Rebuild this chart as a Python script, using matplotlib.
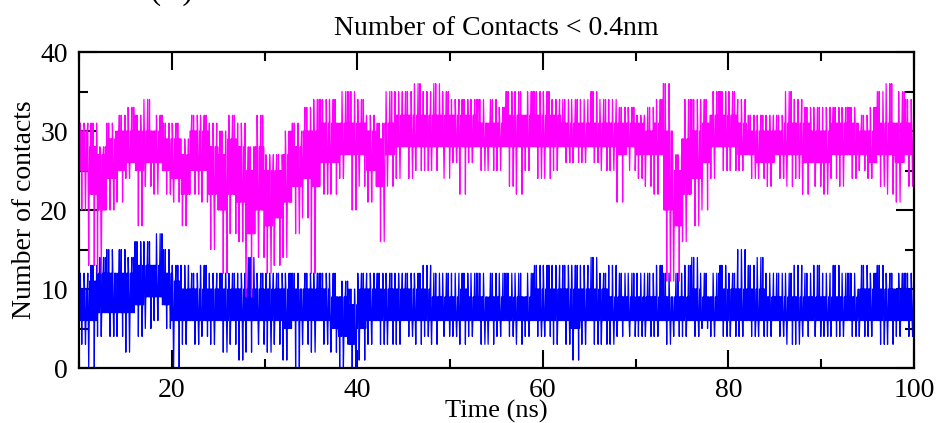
import numpy as np
import matplotlib
matplotlib.use("Agg")
import matplotlib.pyplot as plt
from matplotlib.ticker import MultipleLocator

# 1 ns bins starting at 10 ns; values read off the picture as
# spike high / core high / core low / spike low for each bin
bin_start = np.arange(10, 100)

mag_hi = [31,31,28,31,32,33,32,34,32,31, 31,29,32,32,31,30,32,31,28,32,
          27,27,30,31,33,34,34,34,35,35, 34,32,31,35,35,35,36,35,36,35,
          34,34,34,34,34,33,35,35,35,35, 35,34,34,34,34,35,34,34,33,33,
          32,33,34,36,27,34,34,34,35,35, 35,34,32,32,32,32,35,34,33,33,
          33,33,33,33,32,33,35,36,35,34]
mag_ch = [30,28,27,29,30,30,30,30,30,29, 29,27,30,30,28,27,29,28,25,28,
          25,25,27,28,30,30,31,31,31,31, 31,30,29,31,32,32,32,32,32,32,
          32,32,32,31,31,31,32,32,32,32, 32,32,31,31,31,31,31,31,31,31,
          31,30,31,30,25,29,30,31,32,32, 32,31,30,30,30,30,31,31,31,30,
          30,31,31,31,30,30,31,31,31,31]
mag_cl = [25,22,20,24,25,26,25,26,26,25, 24,22,25,25,22,20,22,21,17,20,
          18,19,21,23,24,23,26,26,27,27, 27,25,23,27,28,28,28,28,28,28,
          28,28,28,28,28,28,28,28,28,28, 28,28,28,28,28,28,28,28,27,28,
          27,27,27,20,18,22,24,26,28,28, 28,27,27,26,26,27,27,27,26,26,
          26,27,27,27,27,26,27,27,26,27]
mag_lo = [20,13,12,20,21,24,18,23,22,22, 21,18,22,21,15,12,17,16,9,14,
          12,13,14,17,19,12,22,22,24,20, 23,21,16,23,24,24,25,25,25,24,
          26,22,26,25,25,25,23,22,25,24, 24,25,26,26,26,26,25,25,21,25,
          24,23,22,11,11,16,18,20,24,25, 25,25,24,24,23,24,23,24,22,23,
          22,24,23,24,25,24,23,22,21,23]

blu_hi = [12,13,14,15,15,14,16,16,17,15, 13,13,12,13,12,12,12,12,14,12,
          12,12,12,12,12,12,12,12,11,10, 12,12,12,12,12,12,12,13,12,12,
          12,12,12,12,12,12,12,12,12,13, 13,13,13,13,13,14,12,13,12,12,
          12,12,13,12,12,13,14,12,12,13, 12,15,13,14,12,12,12,13,12,13,
          12,13,12,12,13,12,13,12,12,12]
blu_ch = [10,11,12,12,12,12,13,13,13,12, 11,10,10,10,10,10,10,10,10,10,
          10,10,10,10,10,10,10,9,9,8, 10,10,10,10,10,10,10,10,9,9,
          9,10,9,9,9,9,9,9,9,10, 10,10,10,10,10,10,10,9,9,9,
          9,9,9,9,9,9,10,9,9,10, 10,10,10,10,9,9,9,9,9,9,
          9,9,9,9,10,10,10,10,10,10]
blu_cl = [6,6,7,7,7,7,8,9,9,8, 6,6,6,6,6,6,6,6,6,6,
          6,6,5,6,6,6,6,5,4,3, 5,6,6,6,6,6,6,6,6,6,
          6,6,6,6,6,6,6,6,6,6, 6,6,6,5,6,6,6,6,6,6,
          6,6,6,6,6,6,6,6,6,6, 6,6,6,6,6,6,6,6,6,6,
          6,6,6,6,6,6,6,6,6,6]
blu_lo = [3,0,4,4,4,2,4,5,6,5, 0,3,3,4,3,2,3,1,2,3,
          2,3,1,0,3,2,3,2,0,0, 1,3,3,3,3,4,3,4,3,4,
          4,3,4,3,3,4,4,3,4,4, 4,3,3,1,3,3,3,3,4,4,
          4,4,4,3,4,4,4,5,4,4, 4,4,4,4,4,4,3,3,4,4,
          4,4,4,4,4,4,3,3,4,4]

# order in which each bin visits its four levels (0=hi 1=ch 2=cl 3=lo)
walk = [2, 1, 2, 0, 2, 1, 3, 1, 2, 1, 2, 0, 1, 2, 3, 2, 1, 2, 1, 0]


def trace(hi, ch, cl, lo):
    levels = np.stack([hi, ch, cl, lo], axis=1)
    n = len(walk)
    rows = []
    for i in range(len(bin_start)):
        order = np.roll(walk, (i * 7) % n)
        rows.append(levels[i, order])
    t = bin_start[:, None] + np.arange(n)[None, :] / n
    return t.ravel(), np.array(rows).ravel()


plt.rcParams['font.family'] = ['Liberation Serif', 'DejaVu Serif']
plt.rcParams['font.size'] = 20

fig = plt.figure(figsize=(9.38, 4.23), dpi=100)
ax = fig.add_axes([0.0842, 0.130, 0.8902, 0.747])

tb, yb = trace(blu_hi, blu_ch, blu_cl, blu_lo)
tm, ym = trace(mag_hi, mag_ch, mag_cl, mag_lo)
ax.plot(tb, yb, color='#0000ff', lw=0.9)
ax.plot(tm, ym, color='#ff00ff', lw=0.9)

ax.set_xlim(10, 100)
ax.set_ylim(0, 40)
ax.xaxis.set_major_locator(MultipleLocator(20))
ax.xaxis.set_minor_locator(MultipleLocator(10))
ax.yaxis.set_major_locator(MultipleLocator(10))
ax.yaxis.set_minor_locator(MultipleLocator(5))
ax.tick_params(which='both', direction='in', top=True, right=True, width=1.5)
ax.tick_params(which='major', length=13, pad=8)
ax.tick_params(axis='x', which='major', pad=7)
ax.tick_params(which='minor', length=6.5)
for s in ax.spines.values():
    s.set_linewidth(1.6)

ax.set_title('Number of Contacts < 0.4nm', fontsize=20, pad=12)
ax.set_xlabel('Time (ns)', fontsize=19, labelpad=-2)
ax.set_ylabel('Number of contacts', fontsize=20, labelpad=2)

# panel letter, cut off by the top edge in the reference
fig.text(0.1834, 1.004, '(B)', ha='center', va='baseline', fontsize=24)

fig.savefig('out.png', dpi=100)
